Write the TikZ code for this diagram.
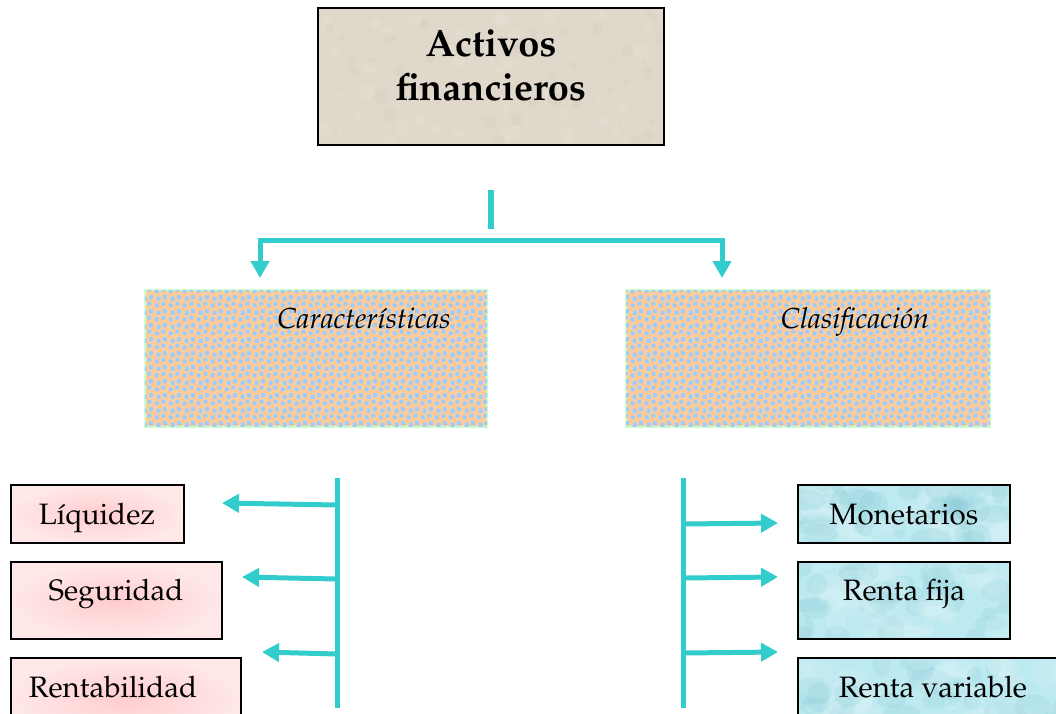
\documentclass[tikz,border=0pt]{standalone}
\usepackage[T1]{fontenc}
\usepackage{mathpazo}
\usetikzlibrary{arrows.meta,patterns}

\definecolor{linkteal}{HTML}{33CCCC}
\definecolor{paper}{HTML}{E0D8CB}
\definecolor{paperdark}{HTML}{D2C9BB}
\definecolor{paperlight}{HTML}{EAE4DA}
\definecolor{apricot}{HTML}{FFCC99}
\definecolor{dotblue}{HTML}{99CCFF}
\definecolor{mint}{HTML}{CCFFCC}
\definecolor{pinkcore}{HTML}{FFCCCE}
\definecolor{pinkedge}{HTML}{FFE8E8}
\definecolor{waterbase}{HTML}{BDE9F0}
\definecolor{waterdark}{HTML}{8ECCD8}
\definecolor{waterlight}{HTML}{DDF6F9}

% staggered little squares over the apricot fill
\pgfdeclarepatternformonly{bluesquares}{\pgfpointorigin}{\pgfpoint{14pt}{14pt}}{\pgfpoint{14pt}{14pt}}{%
  \pgfpathrectangle{\pgfpoint{0.6pt}{0.6pt}}{\pgfpoint{4.4pt}{4.4pt}}%
  \pgfpathrectangle{\pgfpoint{7.8pt}{2.4pt}}{\pgfpoint{4.4pt}{4.4pt}}%
  \pgfpathrectangle{\pgfpoint{2.8pt}{7.6pt}}{\pgfpoint{4.4pt}{4.4pt}}%
  \pgfpathrectangle{\pgfpoint{9.4pt}{9.2pt}}{\pgfpoint{4.4pt}{4.4pt}}%
  \pgfusepath{fill}}

% watery texture inside a rectangle (x1,y1)-(x2,y2)
\newcommand\watertexture[4]{%
  \begin{scope}
    \clip (#1,#2) rectangle (#3,#4);
    \fill[waterbase] (#1,#2) rectangle (#3,#4);
    \foreach \k in {1,...,70}{%
      \pgfmathsetmacro\cx{#1+(#3-#1)*rnd}%
      \pgfmathsetmacro\cy{#2+(#4-#2)*rnd}%
      \pgfmathsetmacro\rx{6+16*rnd}%
      \pgfmathsetmacro\ry{5+11*rnd}%
      \pgfmathsetmacro\sh{rnd}%
      \ifdim\sh pt<0.45pt \def\wc{waterdark}\else\def\wc{waterlight}\fi
      \fill[\wc, opacity=0.22] (\cx,\cy) ellipse [x radius=\rx, y radius=\ry];
    }
  \end{scope}}

% mottled paper inside a rectangle (x1,y1)-(x2,y2)
\newcommand\papertexture[4]{%
  \begin{scope}
    \clip (#1,#2) rectangle (#3,#4);
    \fill[paper] (#1,#2) rectangle (#3,#4);
    \foreach \k in {1,...,110}{%
      \pgfmathsetmacro\cx{#1+(#3-#1)*rnd}%
      \pgfmathsetmacro\cy{#2+(#4-#2)*rnd}%
      \pgfmathsetmacro\rr{2+6*rnd}%
      \pgfmathsetmacro\sh{rnd}%
      \ifdim\sh pt<0.5pt \def\pc{paperdark}\else\def\pc{paperlight}\fi
      \fill[\pc, opacity=0.25] (\cx,\cy) circle [radius=\rr];
    }
  \end{scope}}

\begin{document}
\begin{tikzpicture}[x=1pt, y=-1pt,
  every node/.style={inner sep=0pt, outer sep=0pt},
  frame/.style={draw=black, line width=1.6pt, rectangle},
  dotbox/.style={rectangle, draw=mint, line width=1.6pt, fill=apricot,
    postaction={pattern=bluesquares, pattern color=dotblue}},
  pinkbox/.style={frame, inner color=pinkcore, outer color=pinkedge},
  txt/.style={anchor=base, font=\fontsize{29.5}{34}\selectfont},
  head/.style={anchor=base, font=\fontsize{29}{34}\selectfont\itshape},
  conn/.style={draw=linkteal, line width=5pt},
  arr/.style={conn, -{Triangle[length=17pt, width=18pt]}}]

\useasboundingbox (0,0) rectangle (1056,713);
\clip (0,0) rectangle (1056,713);
\pgfmathsetseed{4211}

% title box
\papertexture{318}{8}{664}{145}
\node[frame, minimum width=346pt, minimum height=137pt] (top) at (491,76.5) {};
\node[align=center, font=\fontsize{38}{44}\selectfont\bfseries] (toptxt)
  at (491,65) {Activos\\financieros};

% second level boxes
\node[dotbox, minimum width=342pt, minimum height=137pt] (car) at (316,358.5) {};
\node[head] (cartxt) at (364,328) {Caracter\'{\i}sticas};
\node[dotbox, minimum width=364pt, minimum height=137pt] (cla) at (808,358.5) {};
\node[head] (clatxt) at (855,328) {Clasificaci\'on};

% characteristics
\node[pinkbox, shading=radial, minimum width=173pt, minimum height=58pt] (liq) at (97.5,514) {};
\node[txt] (liqtxt) at (97,524) {L\'{\i}quidez};
\node[pinkbox, shading=radial, minimum width=211pt, minimum height=77pt] (seg) at (116.5,600.5) {};
\node[txt] (segtxt) at (116,600) {Seguridad};
\node[pinkbox, shading=radial, minimum width=230pt, minimum height=80pt] (ren) at (126,698) {};
\node[txt] (rentxt) at (113,697) {Rentabilidad};

% classification
\watertexture{798}{485}{1010}{543}
\node[frame, minimum width=212pt, minimum height=58pt] (mon) at (904,514) {};
\node[txt] (montxt) at (904,524) {Monetarios};
\watertexture{798}{562}{1010}{639}
\node[frame, minimum width=212pt, minimum height=77pt] (fij) at (904,600.5) {};
\node[txt] (fijtxt) at (904,600) {Renta fija};
\watertexture{798}{658}{1070}{740}
\node[frame, minimum width=272pt, minimum height=82pt] (var) at (934,699) {};
\node[txt] (vartxt) at (933,697) {Renta variable};

% connector anchor points
\coordinate (stubT) at (491,190);
\coordinate (stubB) at (491,229);
\coordinate (barL) at (260,240);
\coordinate (barR) at (722,240);
\coordinate (tipCar) at (260,278);
\coordinate (tipCla) at (722,278);

\coordinate (trL1) at (337,478);
\coordinate (trL2) at (337,708);
\coordinate (jL1) at (337,505);
\coordinate (jL2) at (337,579);
\coordinate (jL3) at (337,654);
\coordinate (tLiq) at (222,503);
\coordinate (tSeg) at (242,577);
\coordinate (tRen) at (262,652);

\coordinate (trR1) at (683,478);
\coordinate (trR2) at (683,708);
\coordinate (jR1) at (683,524);
\coordinate (jR2) at (683,578);
\coordinate (jR3) at (683,653);
\coordinate (tMon) at (778,523);
\coordinate (tFij) at (778,577);
\coordinate (tVar) at (778,652);

% top split
\draw[conn, line width=6pt] (stubT) -- (stubB);
\draw[conn] ([xshift=-2.5pt]barL) -- ([xshift=2.5pt]barR);
\draw[arr] (barL) -- (tipCar);
\draw[arr] (barR) -- (tipCla);

% left branch
\draw[conn] (trL1) -- (trL2);
\draw[arr] (jL1) -- (tLiq);
\draw[arr] (jL2) -- (tSeg);
\draw[arr] (jL3) -- (tRen);

% right branch
\draw[conn] (trR1) -- (trR2);
\draw[arr] (jR1) -- (tMon);
\draw[arr] (jR2) -- (tFij);
\draw[arr] (jR3) -- (tVar);
\end{tikzpicture}
\end{document}
